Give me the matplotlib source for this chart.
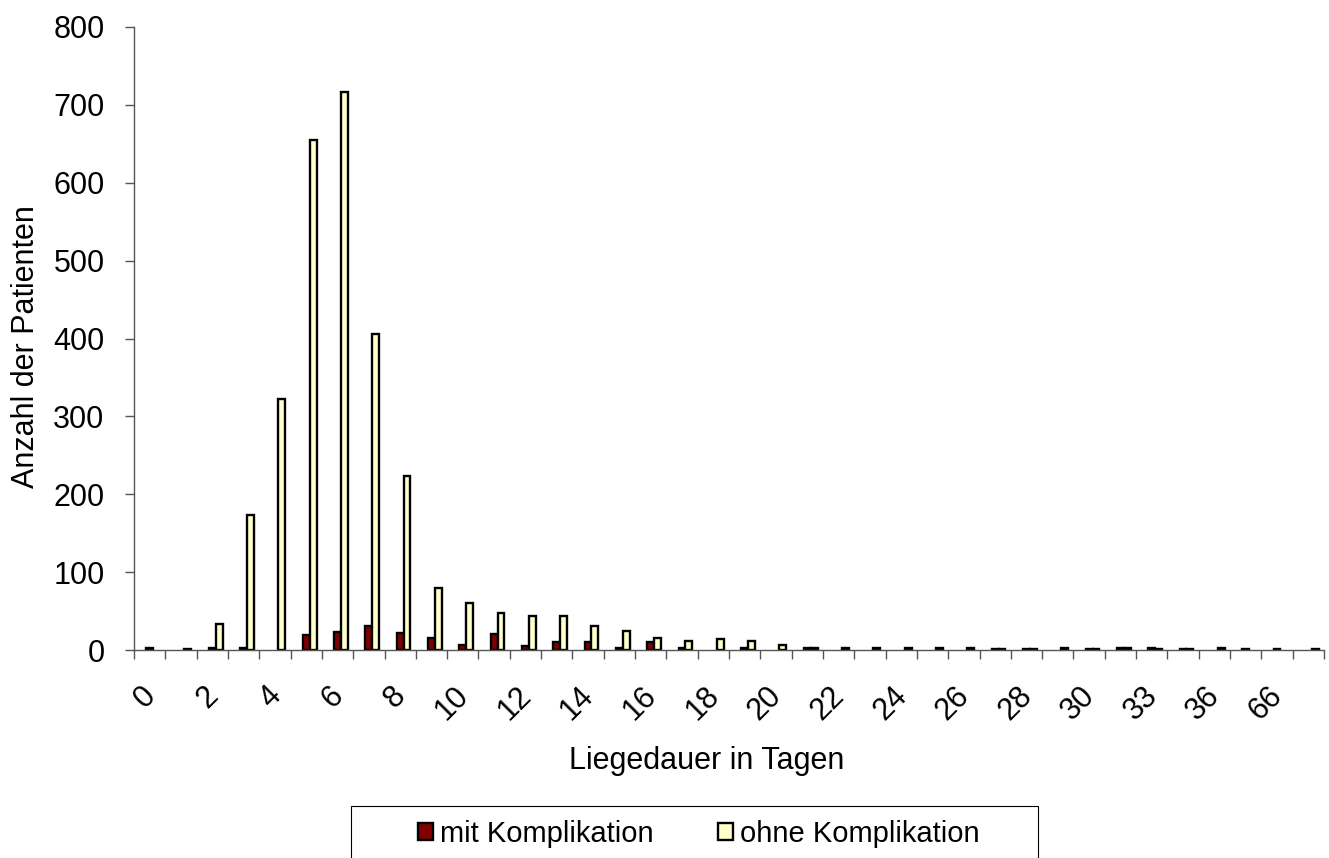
import matplotlib
matplotlib.use('Agg')
import matplotlib.pyplot as plt
import numpy as np
from matplotlib.patches import Rectangle, Patch

plt.rcParams['font.family'] = ['Liberation Sans', 'DejaVu Sans']

categories = [str(i) for i in range(31)] + ["31", "33", "35", "36", "41", "66", "70"]
mit = [2, 0, 2, 3, 0, 19, 23, 31, 22, 16, 6, 21, 5, 10, 10, 3, 10, 3, 0, 2,
       0, 2, 0, 0, 0, 0, 0, 1, 1, 0, 1, 3, 2, 1, 0, 1, 1, 0]
ohne = [0, 1, 33, 173, 322, 655, 717, 406, 223, 80, 60, 48, 44, 44, 31, 24, 16, 11, 14, 11,
        6, 3, 2, 3, 3, 2, 3, 1, 1, 2, 1, 2, 1, 1, 2, 0, 0, 1]
series_names = ["mit Komplikation", "ohne Komplikation"]
yticks = list(range(0, 801, 100))

W, H = 1329, 858
fig = plt.figure(figsize=(W / 100, H / 100), dpi=100)
ax = fig.add_axes([134 / W, 1 - 650 / H, (1324 - 134) / W, (650 - 27) / H])

n = len(categories)
x = np.arange(n)
bw = 0.22
shift = 0.108
lw = 1.7
c_mit = '#800000'
c_ohne = '#FFFFCC'
ax.bar(x + shift - bw / 2, mit, bw, color=c_mit, edgecolor='black',
       linewidth=[lw if v > 0 else 0 for v in mit], zorder=2)
ax.bar(x + shift + bw / 2, ohne, bw, color=c_ohne, edgecolor='black',
       linewidth=[lw if v > 0 else 0 for v in ohne], zorder=2)

ax.set_xlim(-0.5, n - 0.5)
ax.set_ylim(0, 800)
for s in ['top', 'right']:
    ax.spines[s].set_visible(False)
for s in ['left', 'bottom']:
    ax.spines[s].set_color('#555555')
    ax.spines[s].set_linewidth(1.0)
    ax.spines[s].set_zorder(3)

ax.set_xticks(np.arange(-0.5, n, 1))
ax.set_xticks(x[::2] + 0.38, labels=categories[::2], minor=True)
ax.tick_params(axis='x', which='major', length=6.7, width=1.0, color='#555555',
               direction='out', labelbottom=False)
ax.tick_params(axis='x', which='minor', length=0, pad=22, labelsize=22)
for lbl in ax.get_xticklabels(minor=True):
    lbl.set_rotation(45)
    lbl.set_ha('right')
    lbl.set_va('top')

ax.set_yticks(yticks)
ax.tick_params(axis='y', length=6.7, width=1.0, color='#555555', pad=14.5, labelsize=22)

fig.text(707 / W, 1 - 761 / H, 'Liegedauer in Tagen', ha='center', va='center', fontsize=22)
fig.text(26 / W, 1 - 347 / H, 'Anzahl der Patienten', rotation=90, ha='center',
         va='center', fontsize=22)

fig.add_artist(Rectangle((351 / W, -0.02), (1038 - 351) / W, 1 - 806.5 / H + 0.02,
                         transform=fig.transFigure, fill=False, edgecolor='black',
                         linewidth=0.8))
handles = [Patch(facecolor=c_mit, edgecolor='black', linewidth=lw),
           Patch(facecolor=c_ohne, edgecolor='black', linewidth=lw)]
fig.legend(handles, series_names, loc='center', bbox_to_anchor=(699 / W, 1 - 834 / H),
           ncol=2, frameon=False, fontsize=21, handlelength=0.5, handleheight=0.5,
           handletextpad=0.25, columnspacing=2.2, borderpad=0, borderaxespad=0)

fig.savefig('out.png', dpi=100)
